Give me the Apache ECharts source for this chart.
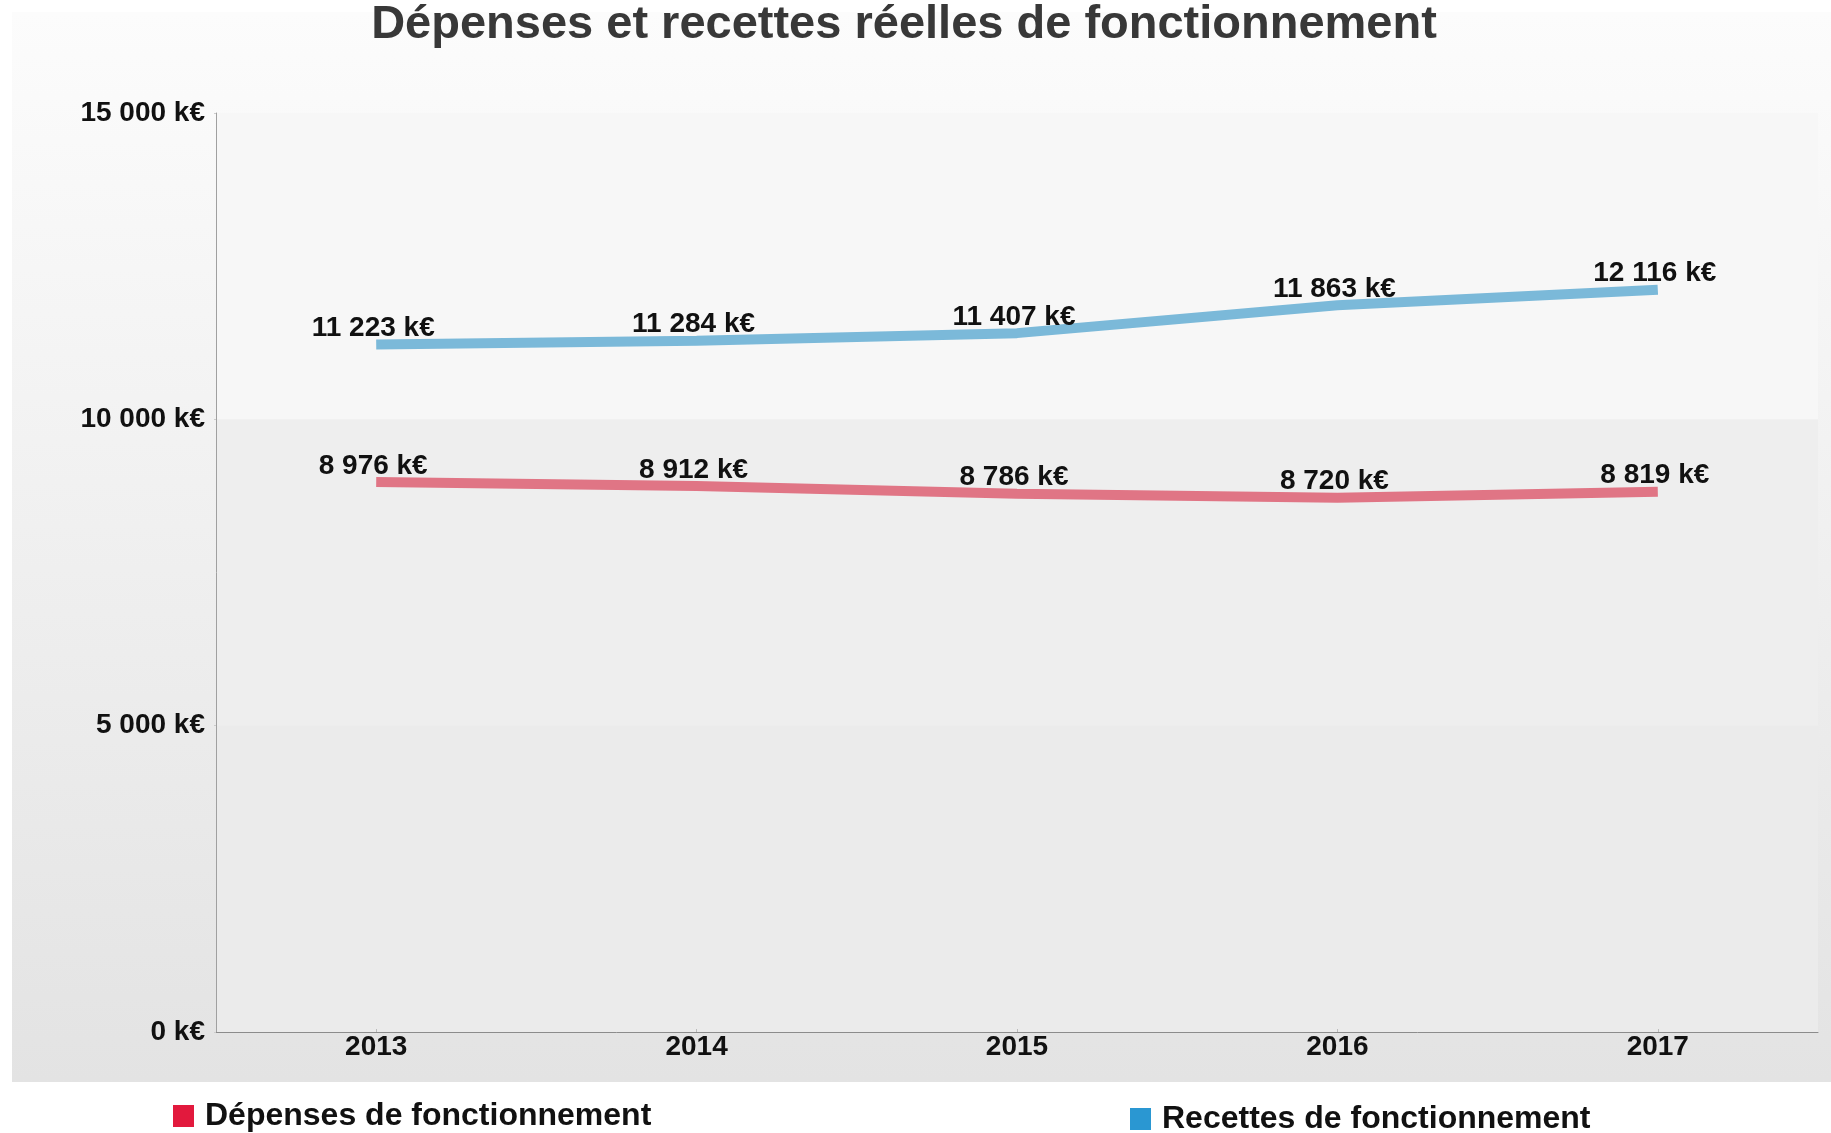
<!DOCTYPE html>
<html>
<head>
<meta charset="utf-8">
<title>Dépenses et recettes réelles de fonctionnement</title>
<script src="https://cdn.jsdelivr.net/npm/echarts@6/dist/echarts.min.js"></script>
<style>
  html, body { margin: 0; padding: 0; background: #fff; }
  #chart { width: 1831px; height: 1133px; }
</style>
</head>
<body>
<div id="chart"></div>
<script>
// données (k€)
const annees = ["2013", "2014", "2015", "2016", "2017"];
const depenses = [8976, 8912, 8786, 8720, 8819];
const recettes = [11223, 11284, 11407, 11863, 12116];
const yTicks = [0, 5000, 10000, 15000];

// 12116 -> "12 116 k€"
function fmt(v) {
  return String(v).replace(/\B(?=(\d{3})+(?!\d))/g, " ") + " k€";
}

const font = "'Liberation Sans', Arial, sans-serif";
const chart = echarts.init(document.getElementById("chart"));

const option = {
  animation: false,
  graphic: [
    {
      // fond gris dégradé
      type: "rect",
      z: -10,
      shape: { x: 12, y: 12, width: 1819, height: 1070 },
      style: {
        fill: new echarts.graphic.LinearGradient(0, 0, 0, 1, [
          { offset: 0, color: "#fcfcfc" },
          { offset: 1, color: "#e3e3e3" },
        ]),
      },
    },
  ],
  title: {
    text: "Dépenses et recettes réelles de fonctionnement",
    left: 904,
    textAlign: "center",
    top: 2,
    padding: 0,
    textStyle: { fontFamily: font, fontSize: 47, fontWeight: "bold", color: "#383838" },
  },
  legend: [
    {
      data: ["Dépenses de fonctionnement"],
      left: 173,
      top: 1100,
      padding: 0,
      icon: "rect",
      itemWidth: 21,
      itemHeight: 22,
      textStyle: { fontFamily: font, fontSize: 32, fontWeight: "bold", color: "#111", padding: [0, 0, 0, 6] },
    },
    {
      data: ["Recettes de fonctionnement"],
      left: 1130,
      top: 1103,
      padding: 0,
      icon: "rect",
      itemWidth: 21,
      itemHeight: 22,
      textStyle: { fontFamily: font, fontSize: 32, fontWeight: "bold", color: "#111", padding: [0, 0, 0, 6] },
    },
  ],
  grid: { left: 216, right: 13, top: 113, bottom: 101 },
  xAxis: {
    type: "category",
    data: annees,
    boundaryGap: true,
    axisLine: { lineStyle: { color: "#8c8c8c", width: 1 } },
    axisTick: { show: true, alignWithLabel: true, inside: true, length: 3, lineStyle: { color: "#bbb" } },
    axisLabel: { margin: 1, fontFamily: font, fontSize: 28, fontWeight: "bold", color: "#111" },
    splitLine: { show: false },
  },
  yAxis: {
    type: "value",
    min: 0,
    max: yTicks[yTicks.length - 1],
    interval: yTicks[1] - yTicks[0],
    axisLine: { show: true, lineStyle: { color: "#a0a0a0", width: 1 } },
    axisTick: { show: true, length: 2, lineStyle: { color: "#ccc" } },
    axisLabel: { margin: 11, fontFamily: font, fontSize: 28, fontWeight: "bold", color: "#111", formatter: fmt },
    splitLine: { show: false },
    splitArea: { show: true, areaStyle: { color: ["#ebebeb", "#eeeeee", "#f7f7f7"] } },
  },
  series: [
    {
      name: "Dépenses de fonctionnement",
      type: "line",
      data: depenses,
      color: "#e2193d",
      symbol: "circle",
      symbolSize: 0,
      showSymbol: true,
      lineStyle: { color: "#e07585", width: 10, cap: "butt" },
      label: {
        show: true,
        position: "top",
        distance: 2,
        offset: [-3, 0],
        fontFamily: font,
        fontSize: 28,
        fontWeight: "bold",
        color: "#111",
        formatter: (p) => fmt(p.value),
      },
    },
    {
      name: "Recettes de fonctionnement",
      type: "line",
      data: recettes,
      color: "#2a97d2",
      symbol: "circle",
      symbolSize: 0,
      showSymbol: true,
      lineStyle: { color: "#7bb9d9", width: 10, cap: "butt" },
      label: {
        show: true,
        position: "top",
        distance: 2,
        offset: [-3, 0],
        fontFamily: font,
        fontSize: 28,
        fontWeight: "bold",
        color: "#111",
        formatter: (p) => fmt(p.value),
      },
    },
  ],
};

chart.setOption(option);
</script>
</body>
</html>
